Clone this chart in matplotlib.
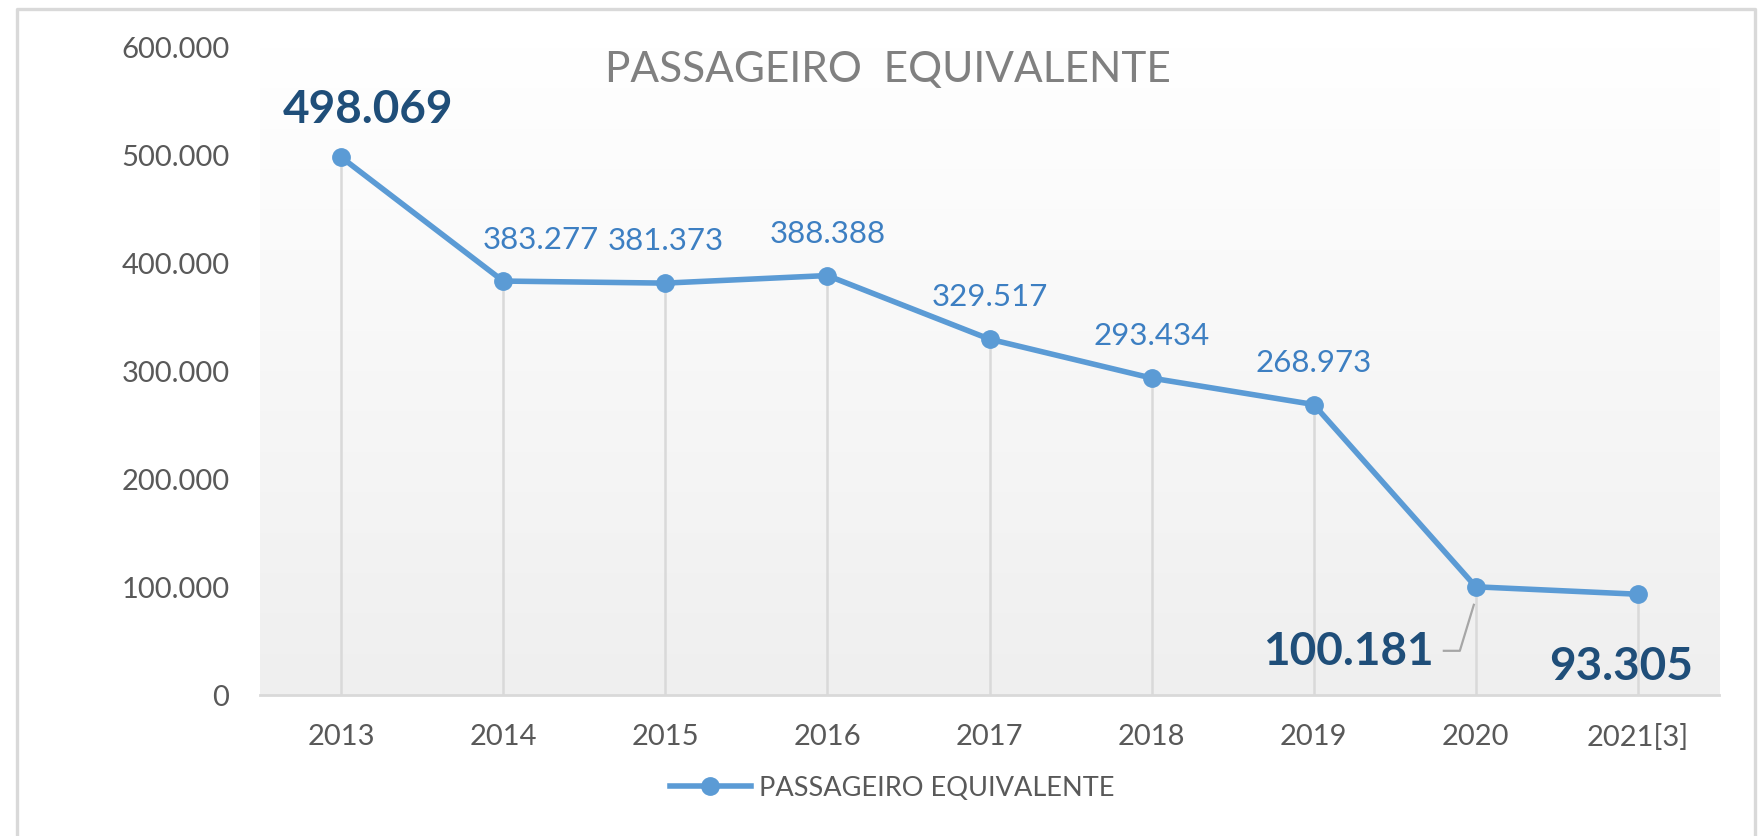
import numpy as np
import matplotlib
matplotlib.use("Agg")
import matplotlib.pyplot as plt
from matplotlib.lines import Line2D

years = ["2013", "2014", "2015", "2016", "2017", "2018", "2019", "2020", "2021[3]"]
values = [498069, 383277, 381373, 388388, 329517, 293434, 268973, 100181, 93305]
yticks = [0, 100000, 200000, 300000, 400000, 500000, 600000]
ytick_labels = ["0", "100.000", "200.000", "300.000", "400.000", "500.000", "600.000"]
series_name = "PASSAGEIRO EQUIVALENTE"
title = "PASSAGEIRO  EQUIVALENTE"

def fmt(v):
    return f"{v:,}".replace(",", ".")

plt.rcParams['font.family'] = ['Lato', 'DejaVu Sans']

W, H = 1760, 836
fig = plt.figure(figsize=(W / 100, H / 100), dpi=100)
ax = fig.add_axes([260 / W, 1 - 695 / H, 1459 / W, 648 / H])

x = np.arange(len(years))
ax.set_xlim(-0.5, len(years) - 0.5)
ax.set_ylim(0, 600000)

# gradient background
grad = np.linspace(1, 0, 256).reshape(-1, 1)
top = np.array([1.0, 1.0, 1.0])
bot = np.array([0xef, 0xef, 0xef]) / 255
img = bot + (top - bot) * grad[..., None]
ax.imshow(img, extent=[0, 1, 0, 1], transform=ax.transAxes, aspect='auto', zorder=0)

line_color = "#5b9bd5"
# drop lines
ax.vlines(x, 0, values, colors="#d9d9d9", linewidth=1.8, zorder=1)
ax.plot(x, values, color=line_color, linewidth=4, marker='o', markersize=12.5,
        solid_capstyle='round', zorder=3, label=series_name)

# labels
normal_color = "#3d7fc2"
bold_color = "#1f4e79"
offsets = {1: (38, 41)}
for i, v in enumerate(values):
    if i in (0, 7, 8):
        continue
    dx, dy = offsets.get(i, (0, 42))
    ax.annotate(fmt(v), (x[i], v), xytext=(dx, dy), textcoords='offset pixels',
                ha='center', va='center', fontsize=22.5, color=normal_color, zorder=4)

ax.annotate(fmt(values[0]), (x[0], values[0]), xytext=(27, 47), textcoords='offset pixels',
            ha='center', va='center', fontsize=33, fontweight='bold', color=bold_color, zorder=4)
ax.annotate(fmt(values[8]), (x[8], values[8]), xytext=(-17, -73), textcoords='offset pixels',
            ha='center', va='center', fontsize=33, fontweight='bold', color=bold_color, zorder=4)
ax.annotate(fmt(values[7]), (x[7], values[7]), xytext=(-128, -65), textcoords='offset pixels',
            ha='center', va='center', fontsize=33, fontweight='bold', color=bold_color, zorder=4)
# leader line for 100.181
px, py = ax.transData.transform((x[7], values[7]))
lx = [px - 32, px - 16, px - 2]
ly = [py - 64, py - 64, py - 18]
fig.add_artist(Line2D([a / W for a in lx], [b / H for b in ly], color="#a6a6a6", linewidth=1.6,
                      transform=fig.transFigure))

# axes styling
for s in ['left', 'right', 'top']:
    ax.spines[s].set_visible(False)
ax.spines['bottom'].set_color("#d9d9d9")
ax.spines['bottom'].set_linewidth(2)
ax.set_xticks(x)
ax.set_xticklabels(years)
ax.set_yticks(yticks)
ax.set_yticklabels(ytick_labels)
ax.tick_params(axis='both', length=0, labelsize=21, labelcolor="#595959")
ax.tick_params(axis='x', pad=21)
ax.tick_params(axis='y', pad=22)

fig.text(888 / W, 1 - 70 / H, title, ha='center', va='center', fontsize=30.5, color="#808080")

# legend
leg = fig.legend(handles=[Line2D([], [], color=line_color, linewidth=4, marker='o', markersize=12.5)],
                 labels=[series_name], loc='center', bbox_to_anchor=(892 / W, 1 - 788 / H),
                 frameon=False, fontsize=19.5, handlelength=3.0, handletextpad=0.3)
for t in leg.get_texts():
    t.set_color("#595959")

# chart border
bc = "#d9d9d9"
fig.add_artist(Line2D([17 / W, 17 / W, 1755 / W, 1755 / W], [0, 1 - 9 / H, 1 - 9 / H, 0],
                      color=bc, linewidth=2.4, transform=fig.transFigure))

fig.savefig("out.png", dpi=100)
